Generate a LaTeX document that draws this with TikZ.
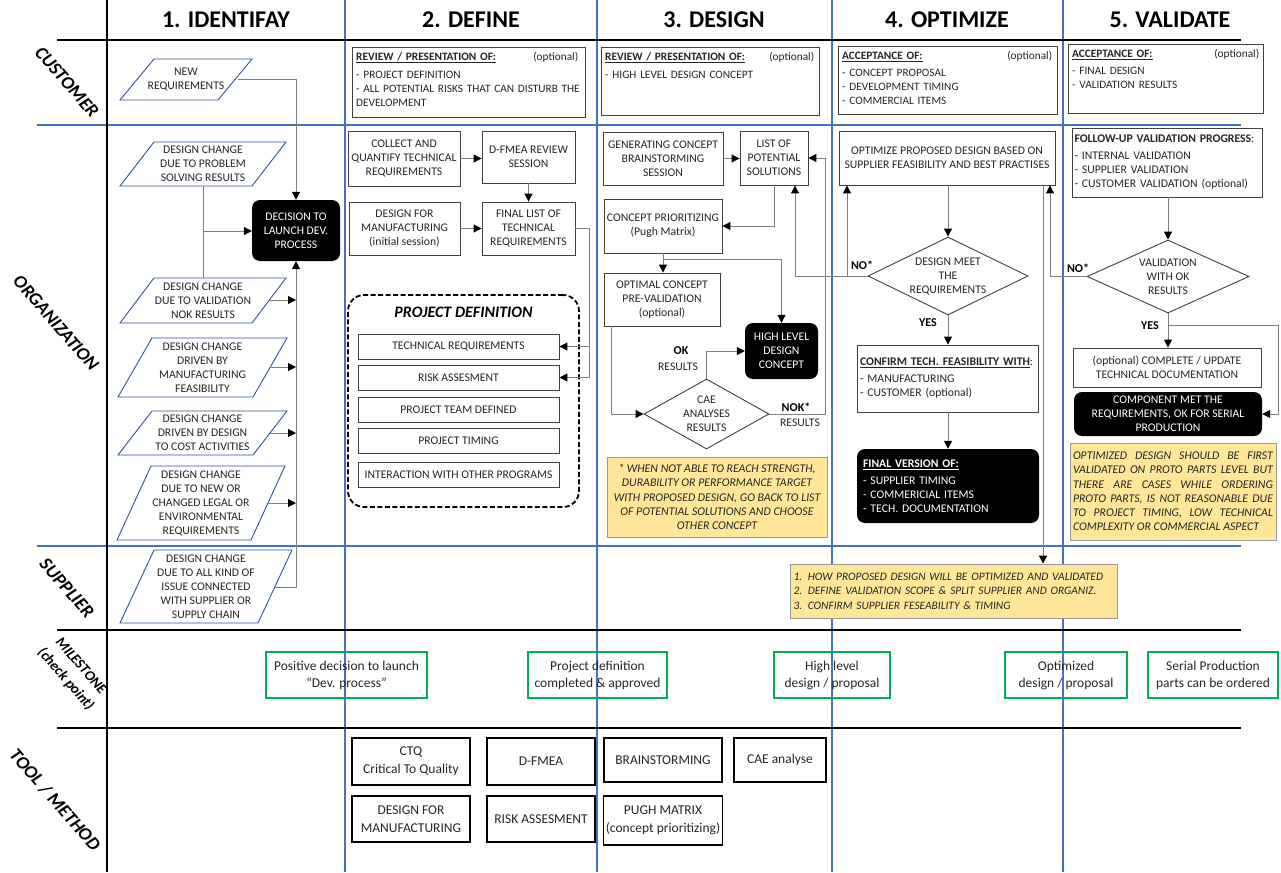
\documentclass[tikz,border=0pt]{standalone}
\usepackage{fontspec}
\setmainfont{Carlito}
\usetikzlibrary{arrows.meta,shapes.geometric,calc}
\definecolor{lblue}{HTML}{4472C4}
\definecolor{pblue}{HTML}{2F5597}
\definecolor{tgray}{HTML}{262626}
\definecolor{cgray}{HTML}{808080}
\definecolor{bgray}{HTML}{404040}
\definecolor{notey}{HTML}{FFE699}
\definecolor{mgreen}{HTML}{00B050}
\newcommand{\pgm}[5]{\draw[pline] (#1+#5,#3) -- (#2,#3) -- (#2-#5,#4) -- (#1,#4) -- cycle;}
\begin{document}
\begin{tikzpicture}[x=1pt,y=-1pt,
  every node/.style={font=\fontsize{11.7}{14}\selectfont, text=tgray, inner sep=1pt},
  box/.style={draw=bgray, line width=0.9pt, fill=white, align=center, inner sep=2pt},
  blk/.style={fill=black, rounded corners=8pt, text=white, align=center, inner sep=2pt},
  con/.style={draw=cgray, line width=1pt},
  arr/.style={con, -{Triangle[length=8pt,width=8pt,color=black]}},
  pline/.style={draw=pblue, line width=0.9pt},
  hdr/.style={font=\bfseries\fontsize{24}{28}\selectfont, text=black},
  rowlab/.style={font=\bfseries\itshape\fontsize{18.5}{19}\selectfont, text=black, rotate=-49, align=center},
  sep/.style={line width=2.4pt, draw=black},
  bsep/.style={line width=1.3pt, draw=lblue},
  note/.style={draw=cgray!80, line width=0.8pt, fill=notey, font=\itshape\fontsize{11.8}{14.2}\selectfont},
  mile/.style={draw=mgreen, line width=1.5pt, align=center, inner sep=2pt, minimum height=46, font=\fontsize{13.5}{17}\selectfont},
  tool/.style={draw=black, line width=1.2pt, align=center, inner sep=2pt, font=\fontsize{13.5}{18}\selectfont},
  lbl/.style={font=\bfseries\fontsize{12}{14}\selectfont, text=black},
  cust/.style={anchor=north west, align=left, inner sep=0, font=\fontsize{11.3}{14}\selectfont},
]
\useasboundingbox (0,0) rectangle (1281,872);
\fill[white] (0,0) rectangle (1281,872);

% grid lines
\foreach \xx in {345,597,832,1063} \draw[bsep] (\xx,0) -- (\xx,872);
\draw[bsep] (37,125) -- (1241,125);
\draw[bsep] (37,546) -- (1241,546);
\draw[sep] (57,40) -- (1241,40);
\draw[sep] (57,630) -- (1241,630);
\draw[sep] (57,728) -- (1241,728);
\draw[sep] (107,0) -- (107,872);

% headers
\node[hdr] (h1) at (226,20) {1. IDENTIFAY};
\node[hdr] (h2) at (471,20) {2. DEFINE};
\node[hdr] (h3) at (714,20) {3. DESIGN};
\node[hdr] (h4) at (947,20) {4. OPTIMIZE};
\node[hdr] (h5) at (1170,20) {5. VALIDATE};

% row labels
\node[rowlab] (rl1) at (67,82) {CUSTOMER};
\node[rowlab] (rl2) at (56,323) {ORGANIZATION};
\node[rowlab] (rl3) at (67,588) {SUPPLIER};
\node[rowlab, font=\bfseries\itshape\fontsize{14.5}{20}\selectfont] (rl4) at (73,673) {MILESTONE\\(check point)};
\node[rowlab] (rl5) at (55,800) {TOOL / METHOD};

% ---------- column 1 ----------
\pgm{120}{252}{59}{100}{34}
\node[align=center] (p1) at (186,79.5) {NEW\\REQUIREMENTS};
\pgm{120}{286}{142}{186}{34}
\node[align=center] (p2) at (203,164) {DESIGN CHANGE\\DUE TO PROBLEM\\SOLVING RESULTS};
\pgm{120}{286}{278}{323}{34}
\node[align=center] (p3) at (203,300.5) {DESIGN CHANGE\\DUE TO VALIDATION\\NOK RESULTS};
\pgm{118}{287}{338}{397}{34}
\node[align=center] (p4) at (202.5,367.5) {DESIGN CHANGE\\DRIVEN BY\\MANUFACTURING\\FEASIBILITY};
\pgm{118}{287}{411}{455}{34}
\node[align=center] (p5) at (202.5,433) {DESIGN CHANGE\\DRIVEN BY DESIGN\\TO COST ACTIVITIES};
\pgm{117}{285}{466}{540}{34}
\node[align=center] (p6) at (201,503) {DESIGN CHANGE\\DUE TO NEW OR\\CHANGED LEGAL OR\\ENVIRONMENTAL\\REQUIREMENTS};
\pgm{120}{292}{550}{623}{34}
\node[align=center] (p7) at (206,586.5) {DESIGN CHANGE\\DUE TO ALL KIND OF\\ISSUE CONNECTED\\WITH SUPPLIER OR\\SUPPLY CHAIN};

\node[blk, minimum width=88, minimum height=61] (dec) at (296,230.5) {DECISION TO\\LAUNCH DEV.\\PROCESS};

\coordinate (p1e) at (238,80);
\coordinate (p2s) at (203,186);
\coordinate (p3n) at (203,278);
\coordinate (p2b) at (203,231);
\coordinate (p3e) at (269,300);
\coordinate (p4e) at (271,367);
\coordinate (p5e) at (270,433);
\coordinate (p6e) at (268,503);
\coordinate (p7e) at (275,587);
\draw[arr] (p1e) -| (dec.north);
\draw[con] (p2s) -- (p3n);
\draw[arr] (p2b) -- (dec.west |- p2b);
\draw[arr] (p7e) -| (dec.south);
\foreach \pp in {p3e,p4e,p5e,p6e} \draw[arr] (\pp) -- (dec.south |- \pp);

% ---------- column 2 ----------
\node[box, minimum width=233, minimum height=70, anchor=north west] (c2) at (352,47) {};
\node[cust, text width=226] (c2t) at (356,52) {\makebox[\linewidth][l]{\textbf{\underline{REVIEW / PRESENTATION OF:}}\hfill(optional)\hspace*{4pt}}\\[4pt]- PROJECT DEFINITION\\\mbox{- ALL POTENTIAL RISKS THAT CAN DISTURB THE}\\DEVELOPMENT};

\node[box, minimum width=112, minimum height=55] (collect) at (404,158.5) {COLLECT AND\\QUANTIFY TECHNICAL\\REQUIREMENTS};
\node[box, minimum width=93, minimum height=52] (dfmea) at (528.5,157) {D-FMEA REVIEW\\SESSION};
\node[box, minimum width=111, minimum height=53] (dfm) at (404.5,228.5) {DESIGN FOR\\MANUFACTURING\\(initial session)};
\node[box, minimum width=93, minimum height=53] (final) at (528.5,228.5) {FINAL LIST OF\\TECHNICAL\\REQUIREMENTS};

\node[draw=black, dash pattern=on 5pt off 2.5pt, line width=1.8pt, rounded corners=16pt, minimum width=231, minimum height=212] (pd) at (463.5,401) {};
\node[font=\bfseries\itshape\fontsize{16}{18}\selectfont, text=black] (pdt) at (463.5,312) {PROJECT DEFINITION};
\node[box, minimum width=201, minimum height=25] (treq) at (458.5,346.5) {TECHNICAL REQUIREMENTS};
\node[box, minimum width=201, minimum height=25] (risk) at (458.5,377.5) {RISK ASSESMENT};
\node[box, minimum width=201, minimum height=25] (team) at (458.5,409.5) {PROJECT TEAM DEFINED};
\node[box, minimum width=201, minimum height=25] (timing) at (458.5,440.5) {PROJECT TIMING};
\node[box, minimum width=201, minimum height=25] (inter) at (458.5,474.5) {INTERACTION WITH OTHER PROGRAMS};

\draw[arr] (collect.east) -- (collect.east -| dfmea.west);
\draw[arr] (dfmea.south) -- (final.north);
\draw[arr] (dfm.east) -- (final.west);
\coordinate (fj) at (589,0);
\draw[con] (final.east) -- (final.east -| fj) -- (fj |- risk.east);
\draw[arr] (fj |- treq.east) -- (treq.east);
\draw[arr] (fj |- risk.east) -- (risk.east);

% ---------- column 3 ----------
\node[box, minimum width=218, minimum height=68, anchor=north west] (c3) at (601,47) {};
\node[cust, text width=211] (c3t) at (605,52) {\makebox[\linewidth][l]{\textbf{\underline{REVIEW / PRESENTATION OF:}}\hfill(optional)\hspace*{2pt}}\\[4pt]- HIGH LEVEL DESIGN CONCEPT};

\node[box, minimum width=120, minimum height=53] (brain) at (663,158.5) {GENERATING CONCEPT\\BRAINSTORMING\\SESSION};
\node[box, minimum width=68, minimum height=54] (list) at (774,158) {LIST OF\\POTENTIAL\\SOLUTIONS};
\node[box, minimum width=118, minimum height=54] (prio) at (663,226) {CONCEPT PRIORITIZING\\(Pugh Matrix)};
\node[box, minimum width=116, minimum height=53] (optimal) at (662,299.5) {OPTIMAL CONCEPT\\PRE-VALIDATION\\(optional)};
\node[blk, minimum width=73, minimum height=56] (hl) at (781.5,351) {HIGH LEVEL\\DESIGN\\CONCEPT};
\node[diamond, draw=bgray, line width=0.9pt, minimum width=125, minimum height=70, inner sep=0] (cae) at (706.5,414) {};
\node[align=center] (caet) at (cae) {CAE\\ANALYSES\\RESULTS};
\node[note, minimum width=220, minimum height=80, align=center] (note3) at (717,497) {* WHEN NOT ABLE TO REACH STRENGTH,\\DURABILITY OR PERFORMANCE TARGET\\WITH PROPOSED DESIGN, GO BACK TO LIST\\OF POTENTIAL SOLUTIONS AND CHOOSE\\OTHER CONCEPT};

\draw[arr] (brain.east) -- (brain.east -| list.west);
\draw[arr] (list.south) |- (prio.east);
\draw[arr] (prio.south) -- (prio.south |- optimal.north);
\draw[arr] ($(prio.south)+(0,6)$) -| (hl.north);
\draw[arr] ([xshift=8pt]optimal.south west) |- (cae.west);
\draw[arr] (cae.north) |- (hl.west);
\coordinate (nk) at (825,0);
\draw[arr] (cae.east) -- (cae.east -| nk) -- (nk |- list.east) -- (list.east);
\node[lbl] (okl) at (681,351) {OK};
\node (okr) at (678,367) {RESULTS};
\node[lbl] (nokl) at (796,407) {NOK*};
\node (nokr) at (800,423) {RESULTS};

% ---------- column 4 ----------
\node[box, minimum width=219, minimum height=68, anchor=north west] (c4) at (838,46) {};
\node[cust, text width=212] (c4t) at (842,51) {\makebox[\linewidth][l]{\textbf{\underline{ACCEPTANCE OF:}}\hfill(optional)\hspace*{2pt}}\\[3pt]- CONCEPT PROPOSAL\\- DEVELOPMENT TIMING\\- COMMERCIAL ITEMS};

\node[box, minimum width=216, minimum height=54] (opt) at (947,158) {OPTIMIZE PROPOSED DESIGN BASED ON\\SUPPLIER FEASIBILITY AND BEST PRACTISES};
\node[diamond, draw=bgray, line width=0.9pt, minimum width=160, minimum height=78, inner sep=0] (d1) at (948,276) {};
\node[align=center] (d1t) at (d1) {DESIGN MEET\\THE\\REQUIREMENTS};
\node[box, minimum width=181, minimum height=67, text width=175, align=left] (conf) at (947.5,378.5) {\textbf{\underline{CONFIRM TECH. FEASIBILITY WITH}}:\\[3pt]- MANUFACTURING\\- CUSTOMER (optional)};
\node[blk, minimum width=182, minimum height=74, text width=170, align=left] (fin) at (948,486) {\textbf{\underline{FINAL VERSION OF:}}\\[3pt]- SUPPLIER TIMING\\- COMMERICIAL ITEMS\\- TECH. DOCUMENTATION};

\draw[arr] (opt.south -| d1.north) -- (d1.north);
\draw[arr] (d1.south) -- (d1.south |- conf.north);
\draw[arr] (conf.south -| d1.south) -- (d1.south |- fin.north);
\coordinate (nb) at (795,0);
\coordinate (nc) at (847,0);
\draw[con] (d1.west) -- (d1.west -| nb);
\draw[arr] (d1.west -| nb) -- (nb |- list.south);
\draw[arr] (d1.west -| nc) -- (nc |- opt.south);
\node[lbl] (no1) at (862,265) {NO*};
\node[lbl] (yes1) at (928,323) {YES};

% ---------- column 5 ----------
\node[box, minimum width=195, minimum height=69, anchor=north west] (c5) at (1068,44) {};
\node[cust, text width=189] (c5t) at (1072,49) {\makebox[\linewidth][l]{\textbf{\underline{ACCEPTANCE OF:}}\hfill(optional)\hspace*{2pt}}\\[3pt]- FINAL DESIGN\\- VALIDATION RESULTS};

\node[box, minimum width=190, minimum height=69, text width=185, align=left] (fu) at (1167,162.5) {\textbf{FOLLOW-UP VALIDATION PROGRESS}:\\[3pt]- INTERNAL VALIDATION\\- SUPPLIER VALIDATION\\- CUSTOMER VALIDATION (optional)};
\node[diamond, draw=bgray, line width=0.9pt, minimum width=162, minimum height=73, inner sep=0] (d2) at (1168,276.5) {};
\node[align=center] (d2t) at (d2) {VALIDATION\\WITH OK\\RESULTS};
\node[box, minimum width=188, minimum height=39] (doc) at (1167,367.5) {(optional) COMPLETE / UPDATE\\TECHNICAL DOCUMENTATION};
\node[blk, minimum width=188, minimum height=44] (comp) at (1168,414) {COMPONENT MET THE\\REQUIREMENTS, OK FOR SERIAL\\PRODUCTION};
\node[note, minimum width=206, minimum height=97, text width=200, align=justify] (note5) at (1173,491.5) {OPTIMIZED DESIGN SHOULD BE FIRST\linebreak VALIDATED ON PROTO PARTS LEVEL BUT\linebreak THERE ARE CASES WHILE ORDERING\linebreak PROTO PARTS, IS NOT REASONABLE DUE\linebreak TO PROJECT TIMING, LOW TECHNICAL\linebreak COMPLEXITY OR COMMERCIAL ASPECT};

\draw[arr] (fu.south -| d2.north) -- (d2.north);
\draw[arr] (d2.south) -- (d2.south |- doc.north);
\draw[arr] ($(d2.south)+(0,12)$) -- ++(110,0) |- (comp.east);
\coordinate (nv) at (1050,0);
\draw[arr] (d2.west) -- (d2.west -| nv) -- (nv |- opt.south);
\node[lbl] (no2) at (1078,268) {NO*};
\node[lbl] (yes2) at (1150,326) {YES};

% ---------- supplier ----------
\node[note, minimum width=327, minimum height=54, text width=320, align=left, font=\itshape\fontsize{11.4}{14.5}\selectfont] (snote) at (953.5,591) {1. HOW PROPOSED DESIGN WILL BE OPTIMIZED AND VALIDATED\\2. DEFINE VALIDATION SCOPE \& SPLIT SUPPLIER AND ORGANIZ.\\3. CONFIRM SUPPLIER FESEABILITY \& TIMING};
\coordinate (ns) at (1043,0);
\draw[arr] (ns |- opt.south) -- (ns |- snote.north);

% ---------- milestones ----------
\node[mile, minimum width=161] (m1) at (346.5,675) {Positive decision to launch\\``Dev. process''};
\node[mile, minimum width=139] (m2) at (597.5,675) {Project definition\\completed \& approved};
\node[mile, minimum width=116] (m3) at (832,675) {High level\\design / proposal};
\node[mile, minimum width=122] (m4) at (1066,675) {Optimized\\design / proposal};
\node[mile, minimum width=130] (m5) at (1213,675) {Serial Production\\parts can be ordered};

% ---------- tools ----------
\node[tool, minimum width=118, minimum height=47] (t1) at (411,761.5) {CTQ\\Critical To Quality};
\node[tool, minimum width=108, minimum height=47] (t2) at (541,761.5) {D-FMEA};
\node[tool, minimum width=118, minimum height=44] (t3) at (663,760) {BRAINSTORMING};
\node[tool, minimum width=92, minimum height=44] (t4) at (780,760) {CAE analyse};
\node[tool, minimum width=118, minimum height=46] (t5) at (411,819) {DESIGN FOR\\MANUFACTURING};
\node[tool, minimum width=108, minimum height=46] (t6) at (541,819) {RISK ASSESMENT};
\node[tool, minimum width=118, minimum height=49] (t7) at (663,820.5) {PUGH MATRIX\\(concept prioritizing)};
\end{tikzpicture}
\end{document}
